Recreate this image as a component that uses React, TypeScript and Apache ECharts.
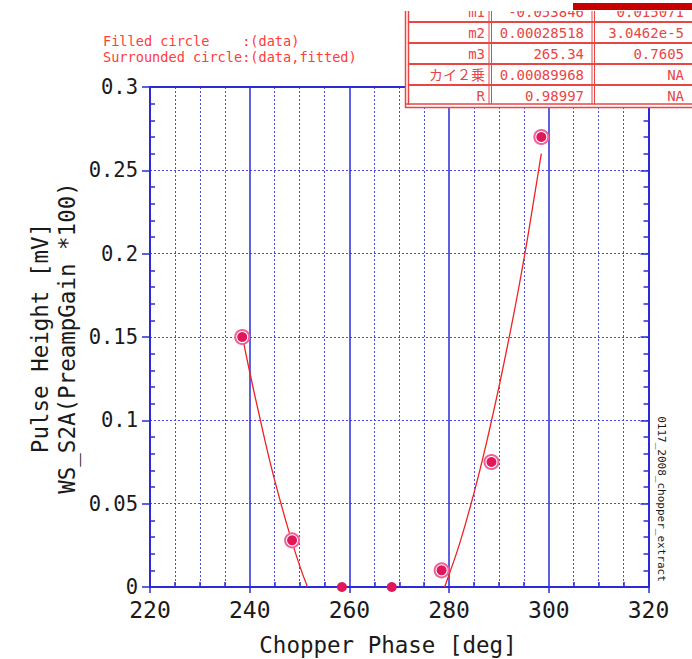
import React, { useEffect, useRef } from "react";
import * as echarts from "echarts";

// ---- data ----
const phase = [238.5, 248.5, 258.5, 268.5, 278.5, 288.5, 298.5];
const pulseHeight = [0.15, 0.028, 0, 0, 0.01, 0.075, 0.27];
const fittedPhase = [238.5, 248.5, 278.5, 288.5, 298.5];
const fittedHeight = [0.15, 0.028, 0.01, 0.075, 0.27];

const fitLeftX = [238.5, 240, 242, 244, 246, 248, 250, 251.6];
const fitLeftY = [0.151, 0.129, 0.102, 0.076, 0.053, 0.032, 0.013, 0.0];
const fitRightX = [279.1, 280, 282, 284, 286, 288, 290, 292, 294, 296, 298.5];
const fitRightY = [0.0, 0.0075, 0.025, 0.0455, 0.068, 0.093, 0.12, 0.149, 0.18, 0.214, 0.26];

const xTicks = [220, 240, 260, 280, 300, 320];
const yTicks = [0, 0.05, 0.1, 0.15, 0.2, 0.25, 0.3];

const legendLines = ["Filled circle    :(data)", "Surrounded circle:(data,fitted)"];
const paramNames = ["m1", "m2", "m3", "カイ２乗", "R"];
const paramValues = ["-0.053846", "0.00028518", "265.34", "0.00089968", "0.98997"];
const paramErrors = ["0.015071", "3.0462e-5", "0.7605", "NA", "NA"];

const xTitle = "Chopper Phase [deg]";
const yTitle1 = "Pulse Height [mV]";
const yTitle2 = "WS_S2A(PreampGain *100)";
const sideNote = "0117_2008_chopper_extract";

const MONO = "'DejaVu Sans Mono', 'Noto Sans CJK JP', monospace";
const BLUE = "#2a2ad8";
const DOT = "#4a4ae2";
const RED = "#e84545";
const TXT = "#1a1a1a";

function txt(x: number, y: number, text: string, size: number, fill: string, align: string, extra: any = {}) {
  return {
    type: "text",
    x,
    y,
    z: 100,
    ...extra,
    style: {
      text,
      fill,
      font: `${size}px ${MONO}`,
      align,
      textAlign: align,
      verticalAlign: "middle",
      textVerticalAlign: "middle",
    },
  };
}

function ln(x1: number, y1: number, x2: number, y2: number, w: number, z = 101) {
  return { type: "line", z, shape: { x1, y1, x2, y2 }, style: { stroke: RED, lineWidth: w } };
}

export default function App() {
  const ref = useRef<HTMLDivElement>(null);
  useEffect(() => {
    if (!ref.current) return;
    const chart = echarts.init(ref.current, undefined, { renderer: "svg" });
    const xMin = xTicks[0];
    const xMax = xTicks[xTicks.length - 1];
    const xInt = xTicks[1] - xTicks[0];
    const yMin = yTicks[0];
    const yMax = yTicks[yTicks.length - 1];
    const yInt = yTicks[1] - yTicks[0];

    // table graphic
    const rowY = [11.5, 32.5, 53.5, 74.5, 95.5];
    const tableEls: any[] = [];
    tableEls.push({ type: "rect", z: 99, shape: { x: 405, y: -10, width: 300, height: 118 }, style: { fill: "#fff" } });
    rowY.forEach((y, i) => {
      tableEls.push(txt(485, y, paramNames[i], 14, RED, "right", { z: 100 }));
      tableEls.push(txt(584, y, paramValues[i], 14, RED, "right", { z: 100 }));
      tableEls.push(txt(684, y, paramErrors[i], 14, RED, "right", { z: 100 }));
    });
    [22, 43, 64, 85].forEach((y) => tableEls.push(ln(408, y, 700, y, 2)));
    tableEls.push(ln(405.5, 0, 405.5, 108, 1.5));
    tableEls.push(ln(408.5, 0, 408.5, 105, 1.5));
    tableEls.push(ln(405, 104, 700, 104, 1.5));
    tableEls.push(ln(405, 107.5, 700, 107.5, 1.5));
    tableEls.push(ln(489, 0, 489, 104, 1));
    tableEls.push(ln(491.5, 0, 491.5, 104, 1));
    tableEls.push(ln(592, 0, 592, 104, 1));
    tableEls.push(ln(594.5, 0, 594.5, 104, 1));
    tableEls.push({ type: "rect", z: 105, shape: { x: 400, y: -2, width: 300, height: 13 }, style: { fill: "#fff" } });
    tableEls.push({ type: "rect", z: 106, shape: { x: 573, y: 3, width: 120, height: 7 }, style: { fill: "#c80000" } });

    const option: any = {
      animation: false,
      backgroundColor: "#ffffff",
      grid: { left: 150, right: 43.5, top: 87, bottom: 72, containLabel: false },
      xAxis: [
        {
          type: "value",
          position: "bottom",
          min: xMin,
          max: xMax,
          interval: xInt,
          axisLine: { show: true, onZero: false, lineStyle: { color: BLUE, width: 2 } },
          axisTick: { show: true, length: 6, lineStyle: { color: BLUE, width: 1.5 } },
          minorTick: { show: false, splitNumber: 4 },
          axisLabel: { color: TXT, fontSize: 23, lineHeight: 18, fontFamily: MONO, margin: 14 },
          splitLine: { show: true, lineStyle: { color: BLUE, width: 1.5 } },
          minorSplitLine: { show: true, lineStyle: { color: DOT, width: 1, type: [2, 2] } },
        },
        {
          type: "value",
          position: "bottom",
          min: xMin,
          max: xMax,
          interval: xInt,
          axisLine: { show: false, onZero: false },
          axisTick: { show: false, inside: true },
          minorTick: { show: true, splitNumber: 4, length: 5, lineStyle: { color: BLUE, width: 1.5 } },
          axisLabel: { show: false },
          splitLine: { show: false },
        },
        {
          type: "value",
          position: "top",
          min: xMin,
          max: xMax,
          interval: xInt,
          axisLine: { show: true, onZero: false, lineStyle: { color: BLUE, width: 2 } },
          axisTick: { show: false },
          axisLabel: { show: false },
          splitLine: { show: false },
        },
      ],
      yAxis: [
        {
          type: "value",
          position: "left",
          min: yMin,
          max: yMax,
          interval: yInt,
          axisLine: { show: true, onZero: false, lineStyle: { color: BLUE, width: 2 } },
          axisTick: { show: true, length: 8, lineStyle: { color: BLUE, width: 1.5 } },
          minorTick: { show: false },
          axisLabel: { color: TXT, fontSize: 20.5, lineHeight: 16, fontFamily: MONO, margin: 12 },
          splitLine: { show: true, lineStyle: { color: DOT, width: 1, type: [2, 2] } },
        },
        {
          type: "value",
          position: "left",
          min: yMin,
          max: yMax,
          interval: yInt,
          axisLine: { show: false, onZero: false },
          axisTick: { show: false, inside: true },
          minorTick: { show: true, splitNumber: 5, length: 5, lineStyle: { color: BLUE, width: 1.5 } },
          axisLabel: { show: false },
          splitLine: { show: false },
        },
        {
          type: "value",
          position: "right",
          min: yMin,
          max: yMax,
          interval: yInt,
          axisLine: { show: true, onZero: false, lineStyle: { color: BLUE, width: 2 } },
          axisTick: { show: true, inside: true, length: 8, lineStyle: { color: BLUE, width: 1.5 } },
          minorTick: { show: true, splitNumber: 5, length: 5, lineStyle: { color: BLUE, width: 1.5 } },
          axisLabel: { show: false },
          splitLine: { show: false },
        },
      ],
      series: [
        {
          type: "line",
          xAxisIndex: 0,
          yAxisIndex: 0,
          data: fitLeftX.map((x, i) => [x, fitLeftY[i]]),
          symbol: "none",
          smooth: true,
          lineStyle: { color: "#ee2222", width: 1.3 },
          z: 3,
        },
        {
          type: "line",
          xAxisIndex: 0,
          yAxisIndex: 0,
          data: fitRightX.map((x, i) => [x, fitRightY[i]]),
          symbol: "none",
          smooth: true,
          lineStyle: { color: "#ee2222", width: 1.3 },
          z: 3,
        },
        {
          type: "scatter",
          xAxisIndex: 0,
          yAxisIndex: 0,
          data: fittedPhase.map((x, i) => [x, fittedHeight[i]]),
          symbol: "circle",
          symbolSize: 14,
          itemStyle: { color: "#ffffff", borderColor: "#f0609a", borderWidth: 2, opacity: 1 },
          z: 4,
        },
        {
          type: "scatter",
          xAxisIndex: 0,
          yAxisIndex: 0,
          data: phase.map((x, i) => [x, pulseHeight[i]]),
          symbol: "circle",
          symbolSize: 10,
          itemStyle: { color: "#e0185a", opacity: 1 },
          z: 5,
        },
      ],
      graphic: [
        txt(103, 41, legendLines[0], 13.6, "#ff3b3b", "left"),
        txt(103, 57, legendLines[1], 13.6, "#ff3b3b", "left"),
        txt(388, 645, xTitle, 22.5, TXT, "center"),
        txt(40, 338, yTitle1, 22.5, TXT, "center", { rotation: Math.PI / 2 }),
        txt(67, 338, yTitle2, 22.5, TXT, "center", { rotation: Math.PI / 2 }),
        txt(661, 499, sideNote, 11, TXT, "center", { rotation: -Math.PI / 2 }),
        ...tableEls,
      ],
    };
    chart.setOption(option);
    return () => chart.dispose();
  }, []);
  return <div ref={ref} style={{ position: "fixed", left: 0, top: 0, width: 692, height: 659 }} />;
}
